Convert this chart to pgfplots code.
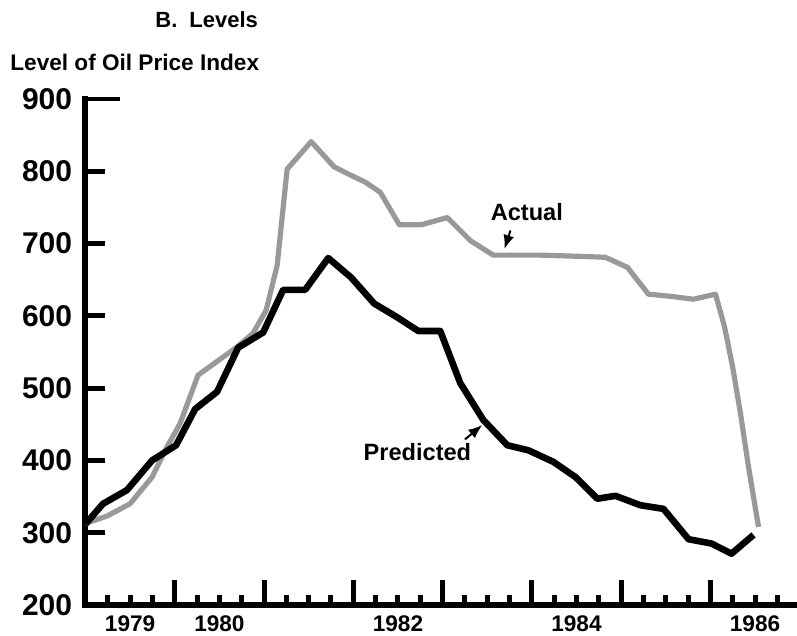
\documentclass[border=0pt]{standalone}
\usepackage{fontspec}
\setmainfont{Liberation Sans}
\usepackage{pgfplots}
\pgfplotsset{compat=1.18}
\usetikzlibrary{calc,arrows.meta}
\definecolor{actualgray}{gray}{0.6}
\begin{document}
\begin{tikzpicture}
\begin{axis}[
  scale only axis, width=355.75pt, height=253pt,
  xmin=1979, xmax=1986.97, ymin=200, ymax=900,
  axis x line=bottom, axis y line=left,
  tick align=inside,
  axis line style={-, line width=3pt, line cap=rect},
  /pgf/number format/assume math mode=true,
  ytick={200,300,...,800},
  yticklabel style={font=\fontsize{15pt}{16pt}\selectfont\bfseries, inner sep=0pt, anchor=east, xshift=-6.5pt},
  ytick style={line width=2.5pt, black},
  major tick length=10pt,
  minor tick length=5pt,
  extra y ticks={900}, extra y tick labels={900},
  extra y tick style={major tick length=17.5pt, tick align=inside},
  xtick={1979.5,1980.5,1982.5,1984.5,1986.5},
  xticklabels={1979,1980,1982,1984,1986},
  xticklabel style={font=\fontsize{11.3pt}{12pt}\selectfont\bfseries, inner sep=0pt, anchor=north, yshift=-5pt},
  xtick style={draw=none},
  minor xtick={1979.25,1979.5,1979.75,1980.25,1980.5,1980.75,1981.25,1981.5,1981.75,1982.25,1982.5,1982.75,1983.25,1983.5,1983.75,1984.25,1984.5,1984.75,1985.25,1985.5,1985.75,1986.25,1986.5,1986.75},
  minor x tick style={draw=black, line width=2.5pt},
  extra x ticks={1980,1981,1982,1983,1984,1985,1986},
  extra x tick labels={},
  extra x tick style={major tick length=12.5pt, tick align=inside, xtick style={draw=black, line width=2.5pt}},
  clip=false,
]
\addplot[actualgray, line width=2.6pt, line join=round] coordinates {
(1979.000,313) (1979.241,323) (1979.499,340) (1979.746,377) (1979.914,419)
(1980.059,451) (1980.261,518) (1980.474,537) (1980.698,557) (1980.878,576)
(1981.024,608) (1981.147,670) (1981.259,803) (1981.528,841) (1981.786,806)
(1981.965,795) (1982.133,785) (1982.302,771) (1982.515,726) (1982.761,726)
(1983.053,736) (1983.311,704) (1983.568,684) (1983.837,684) (1984.095,684)
(1984.353,683) (1984.622,682) (1984.824,681) (1985.071,667) (1985.306,630)
(1985.553,627) (1985.811,623) (1986.057,630) (1986.158,585) (1986.248,530)
(1986.337,465) (1986.427,391) (1986.539,308)
};
\addplot[black, line width=3.3pt, line join=round] coordinates {
(1979.000,312) (1979.196,340) (1979.465,359) (1979.746,400) (1980.015,421)
(1980.228,471) (1980.474,495) (1980.710,556) (1980.990,577) (1981.214,636)
(1981.461,636) (1981.719,680) (1981.976,653) (1982.234,617) (1982.492,598)
(1982.728,579) (1982.974,579) (1983.198,507) (1983.456,456) (1983.725,421)
(1983.961,414) (1984.241,398) (1984.488,377) (1984.734,347) (1984.936,351)
(1985.216,338) (1985.474,333) (1985.755,291) (1986.012,285) (1986.237,271)
(1986.483,297)
};
\node[anchor=base west, inner sep=0pt, font=\fontsize{11.8pt}{13pt}\selectfont\bfseries] at (axis cs:1983.535,732.5) {Actual};
\node[anchor=base west, inner sep=0pt, font=\fontsize{11.8pt}{13pt}\selectfont\bfseries] at (axis cs:1982.111,400.5) {Predicted};
\draw[-{Latex[length=7pt,width=5.5pt]}, line width=1pt] (axis cs:1983.76,718) -- (axis cs:1983.692,692.4);
\draw[-{Latex[length=7pt,width=5.5pt]}, line width=1pt] (axis cs:1983.25,429) -- (axis cs:1983.445,449);
\coordinate (bl) at (rel axis cs:0,0);
\coordinate (tr) at (rel axis cs:1,1);
\end{axis}
\node[anchor=base west, inner sep=0pt, font=\fontsize{11pt}{13pt}\selectfont\bfseries] at ($(bl|-tr)+(34.75pt,36pt)$) {B.\hspace{0.55em}Levels};
\node[anchor=base west, inner sep=0pt, font=\fontsize{11.3pt}{13pt}\selectfont\bfseries] at ($(bl|-tr)+(-37.75pt,14.15pt)$) {Level of Oil Price Index};
\pgfresetboundingbox
\path[use as bounding box] ($(bl)+(-42.75pt,-15.5pt)$) rectangle ($(tr)+(0pt,49.5pt)$);
\end{tikzpicture}
\end{document}
